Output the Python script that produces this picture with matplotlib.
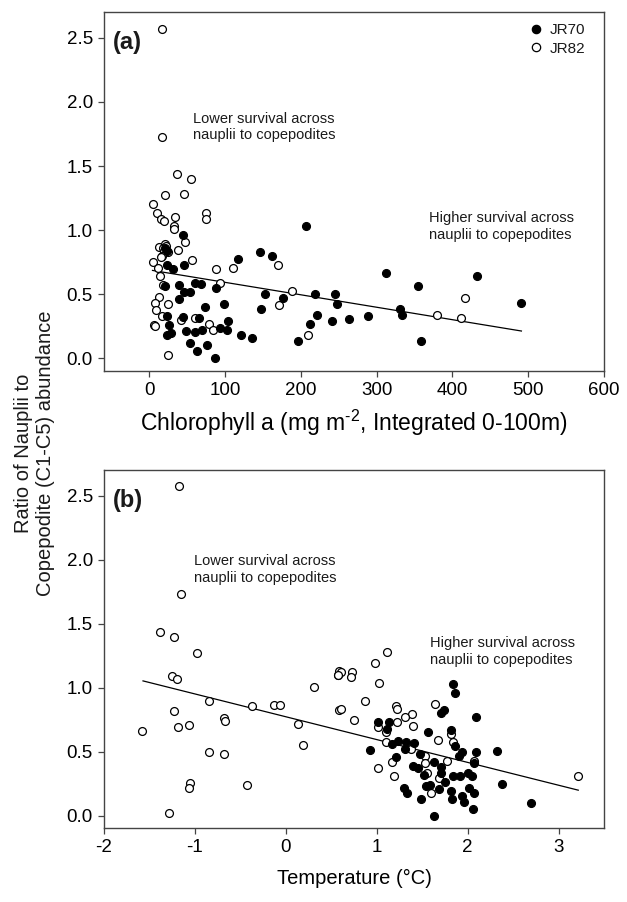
import numpy as np
import matplotlib
matplotlib.use("Agg")
import matplotlib.pyplot as plt
from matplotlib.lines import Line2D

plt.rcParams['font.family'] = ['Liberation Sans', 'DejaVu Sans']
plt.rcParams['mathtext.fontset'] = 'custom'
plt.rcParams['mathtext.rm'] = 'Liberation Sans'
plt.rcParams['mathtext.it'] = 'Liberation Sans:italic'
plt.rcParams['text.color'] = '#1a1a1a'

# (a) chlorophyll a vs nauplii:copepodite ratio
chl_jr70 = [207, 146, 162, 117, 312, 432, 355, 68, 88, 152, 219, 245, 248, 176, 99, 73,
            147, 490, 331, 333, 288, 221, 264, 241, 212, 104, 103, 93, 70, 121, 136, 196,
            359, 76, 86, 63, 44, 20, 23, 23, 31, 45, 21, 39, 60, 45, 53, 39, 23, 44, 65,
            26, 28, 23, 48, 60, 53]
ratio_a_jr70 = [1.03, 0.827, 0.80, 0.775, 0.668, 0.645, 0.567, 0.578, 0.549, 0.502, 0.50,
                0.502, 0.422, 0.471, 0.422, 0.396, 0.383, 0.43, 0.383, 0.336, 0.333, 0.336,
                0.305, 0.287, 0.263, 0.29, 0.222, 0.232, 0.22, 0.18, 0.16, 0.136, 0.134,
                0.10, 0.004, 0.058, 0.962, 0.86, 0.84, 0.728, 0.695, 0.728, 0.562, 0.572,
                0.585, 0.516, 0.513, 0.461, 0.326, 0.321, 0.31, 0.256, 0.196, 0.183, 0.212,
                0.208, 0.115]
chl_jr82 = [16, 16, 37, 55, 21, 46, 4, 10, 15, 19, 34, 32, 32, 75, 74, 47, 12, 20, 18, 22,
            19, 24, 17, 38, 5, 56, 15, 11, 14, 88, 110, 170, 93, 188, 18, 13, 7, 24, 9, 6,
            7, 17, 25, 60, 79, 84, 42, 171, 417, 379, 411, 209]
ratio_a_jr82 = [2.572, 1.727, 1.437, 1.395, 1.27, 1.285, 1.20, 1.136, 1.084, 1.071, 1.10,
                1.03, 1.006, 1.13, 1.09, 0.905, 0.866, 0.89, 0.86, 0.875, 0.835, 0.825, 0.80,
                0.843, 0.754, 0.767, 0.79, 0.70, 0.643, 0.697, 0.702, 0.726, 0.585, 0.526,
                0.572, 0.48, 0.43, 0.42, 0.378, 0.26, 0.248, 0.326, 0.027, 0.315, 0.265,
                0.22, 0.295, 0.414, 0.469, 0.339, 0.315, 0.18]
fit_a_x = [4, 491]
fit_a_y = [0.685, 0.212]

# (b) temperature vs nauplii:copepodite ratio
temp_jr70 = [1.843, 1.865, 1.744, 1.707, 2.097, 1.015, 1.136, 1.11, 1.814, 1.567, 0.926,
             1.173, 1.235, 1.324, 1.412, 1.309, 1.21, 1.478, 1.858, 1.939, 1.903, 2.094,
             2.322, 2.068, 1.398, 1.45, 1.633, 1.707, 1.707, 1.516, 1.843, 1.92, 2.002,
             2.05, 1.755, 1.541, 1.589, 1.688, 1.302, 1.331, 1.486, 1.821, 1.825, 1.936,
             1.965, 2.02, 2.072, 2.057, 2.381, 2.698, 1.632]
ratio_b_jr70 = [1.026, 0.956, 0.826, 0.80, 0.771, 0.729, 0.729, 0.677, 0.669, 0.651, 0.513,
                0.56, 0.586, 0.578, 0.57, 0.516, 0.456, 0.477, 0.547, 0.50, 0.466, 0.495,
                0.502, 0.414, 0.39, 0.373, 0.42, 0.377, 0.33, 0.315, 0.307, 0.305, 0.33,
                0.312, 0.26, 0.227, 0.24, 0.208, 0.213, 0.174, 0.127, 0.19, 0.13, 0.156,
                0.104, 0.216, 0.174, 0.052, 0.245, 0.094, 0.0]
temp_jr82 = [-1.18, -1.158, -1.387, -1.225, -0.981, -1.257, -1.196, -0.849, -1.232, -0.37,
             -0.135, -0.069, -1.578, -1.188, -1.07, -0.68, -0.669, 0.138, 0.315, 0.19,
             -0.842, -0.683, -1.052, -1.07, -0.422, -1.28, 0.577, 0.59, 0.59, 1.11, 0.978,
             0.602, 0.573, 0.724, 0.713, 1.022, 0.875, 0.606, 0.75, 1.645, 1.213, 1.224,
             1.383, 1.313, 1.015, 1.40, 1.221, 1.67, 1.107, 1.10, 1.84, 1.814, 1.015,
             1.185, 1.163, 1.376, 1.534, 1.528, 1.777, 1.552, 1.685, 1.597, 2.068, 3.217]
ratio_b_jr82 = [2.576, 1.732, 1.432, 1.393, 1.268, 1.091, 1.065, 0.898, 0.818, 0.857, 0.865,
                0.865, 0.659, 0.693, 0.706, 0.763, 0.737, 0.719, 1.005, 0.552, 0.50, 0.482,
                0.252, 0.216, 0.24, 0.021, 1.10, 1.133, 0.828, 1.281, 1.195, 1.125, 1.10,
                1.125, 1.086, 1.039, 0.896, 0.831, 0.747, 0.87, 0.854, 0.836, 0.791, 0.766,
                0.69, 0.70, 0.729, 0.594, 0.651, 0.573, 0.578, 0.638, 0.373, 0.31, 0.422,
                0.521, 0.469, 0.409, 0.424, 0.336, 0.294, 0.174, 0.424, 0.307]
fit_b_x = [-1.571, 3.217]
fit_b_y = [1.052, 0.198]

note_low = "Lower survival across\nnauplii to copepodites"
note_high = "Higher survival across\nnauplii to copepodites"

fig = plt.figure(figsize=(6.27, 9.02), dpi=100)
ax_a = fig.add_axes([0.1659, 0.5887, 0.7974, 0.3977])
ax_b = fig.add_axes([0.1659, 0.0817, 0.7974, 0.3972])

msize = 32
for ax, xo, yo, xf, yf, fx, fy in [
        (ax_a, chl_jr82, ratio_a_jr82, chl_jr70, ratio_a_jr70, fit_a_x, fit_a_y),
        (ax_b, temp_jr82, ratio_b_jr82, temp_jr70, ratio_b_jr70, fit_b_x, fit_b_y)]:
    ax.plot(fx, fy, color='black', lw=0.9, zorder=1)
    ax.scatter(xo, yo, s=msize, facecolor='white', edgecolor='black', lw=0.9, zorder=2)
    ax.scatter(xf, yf, s=msize, facecolor='black', edgecolor='black', lw=0.9, zorder=3)
    ax.set_ylim(-0.1, 2.7)
    ax.set_yticks([0.0, 0.5, 1.0, 1.5, 2.0, 2.5])
    ax.set_yticklabels(['0.0', '0.5', '1.0', '1.5', '2.0', '2.5'])
    for sp in ax.spines.values():
        sp.set_color('#444444')
        sp.set_linewidth(1.0)
    ax.tick_params(axis='both', direction='out', length=4, width=0.9, color='#444444',
                   labelsize=13.5, pad=4, top=False, right=False)

ax_a.set_xlim(-60, 600)
ax_a.set_xticks([0, 100, 200, 300, 400, 500, 600])
ax_a.set_xlabel('Chlorophyll a (mg m$^{\\mathregular{\u2010}2}$, Integrated 0-100m)',
                fontsize=16.5, labelpad=6)
ax_a.text(0.018, 0.915, '(a)', transform=ax_a.transAxes, fontsize=17, fontweight='bold',
          va='center', ha='left')
ax_a.text(58, 1.805, note_low, fontsize=10.5, va='center', ha='left', linespacing=1.25)
ax_a.text(369, 1.03, note_high, fontsize=10.5, va='center', ha='left', linespacing=1.25)

handles = [Line2D([], [], ls='none', marker='o', ms=6, mfc='black', mec='black', mew=0.9),
           Line2D([], [], ls='none', marker='o', ms=6, mfc='white', mec='black', mew=0.9)]
ax_a.legend(handles, ['JR70', 'JR82'], loc='upper right', frameon=False, fontsize=11,
            handlelength=0.8, handletextpad=0.5, labelspacing=0.3,
            borderaxespad=0.3, bbox_to_anchor=(0.985, 1.0))

ax_b.set_xlim(-2, 3.5)
ax_b.set_xticks([-2, -1, 0, 1, 2, 3])
ax_b.set_xticklabels(['-2', '-1', '0', '1', '2', '3'])
ax_b.set_xlabel('Temperature (\u00b0C)', fontsize=14.5, labelpad=9)
ax_b.text(0.018, 0.915, '(b)', transform=ax_b.transAxes, fontsize=17, fontweight='bold',
          va='center', ha='left')
ax_b.text(-1.011, 1.92, note_low, fontsize=10.5, va='center', ha='left', linespacing=1.25)
ax_b.text(1.589, 1.28, note_high, fontsize=10.5, va='center', ha='left', linespacing=1.25)

fig.text(0.055, 0.497, 'Ratio of Nauplii to\nCopepodite (C1-C5) abundance', rotation=90,
         fontsize=14.5, ha='center', va='center', linespacing=1.2)

fig.savefig('out.png', dpi=100)
